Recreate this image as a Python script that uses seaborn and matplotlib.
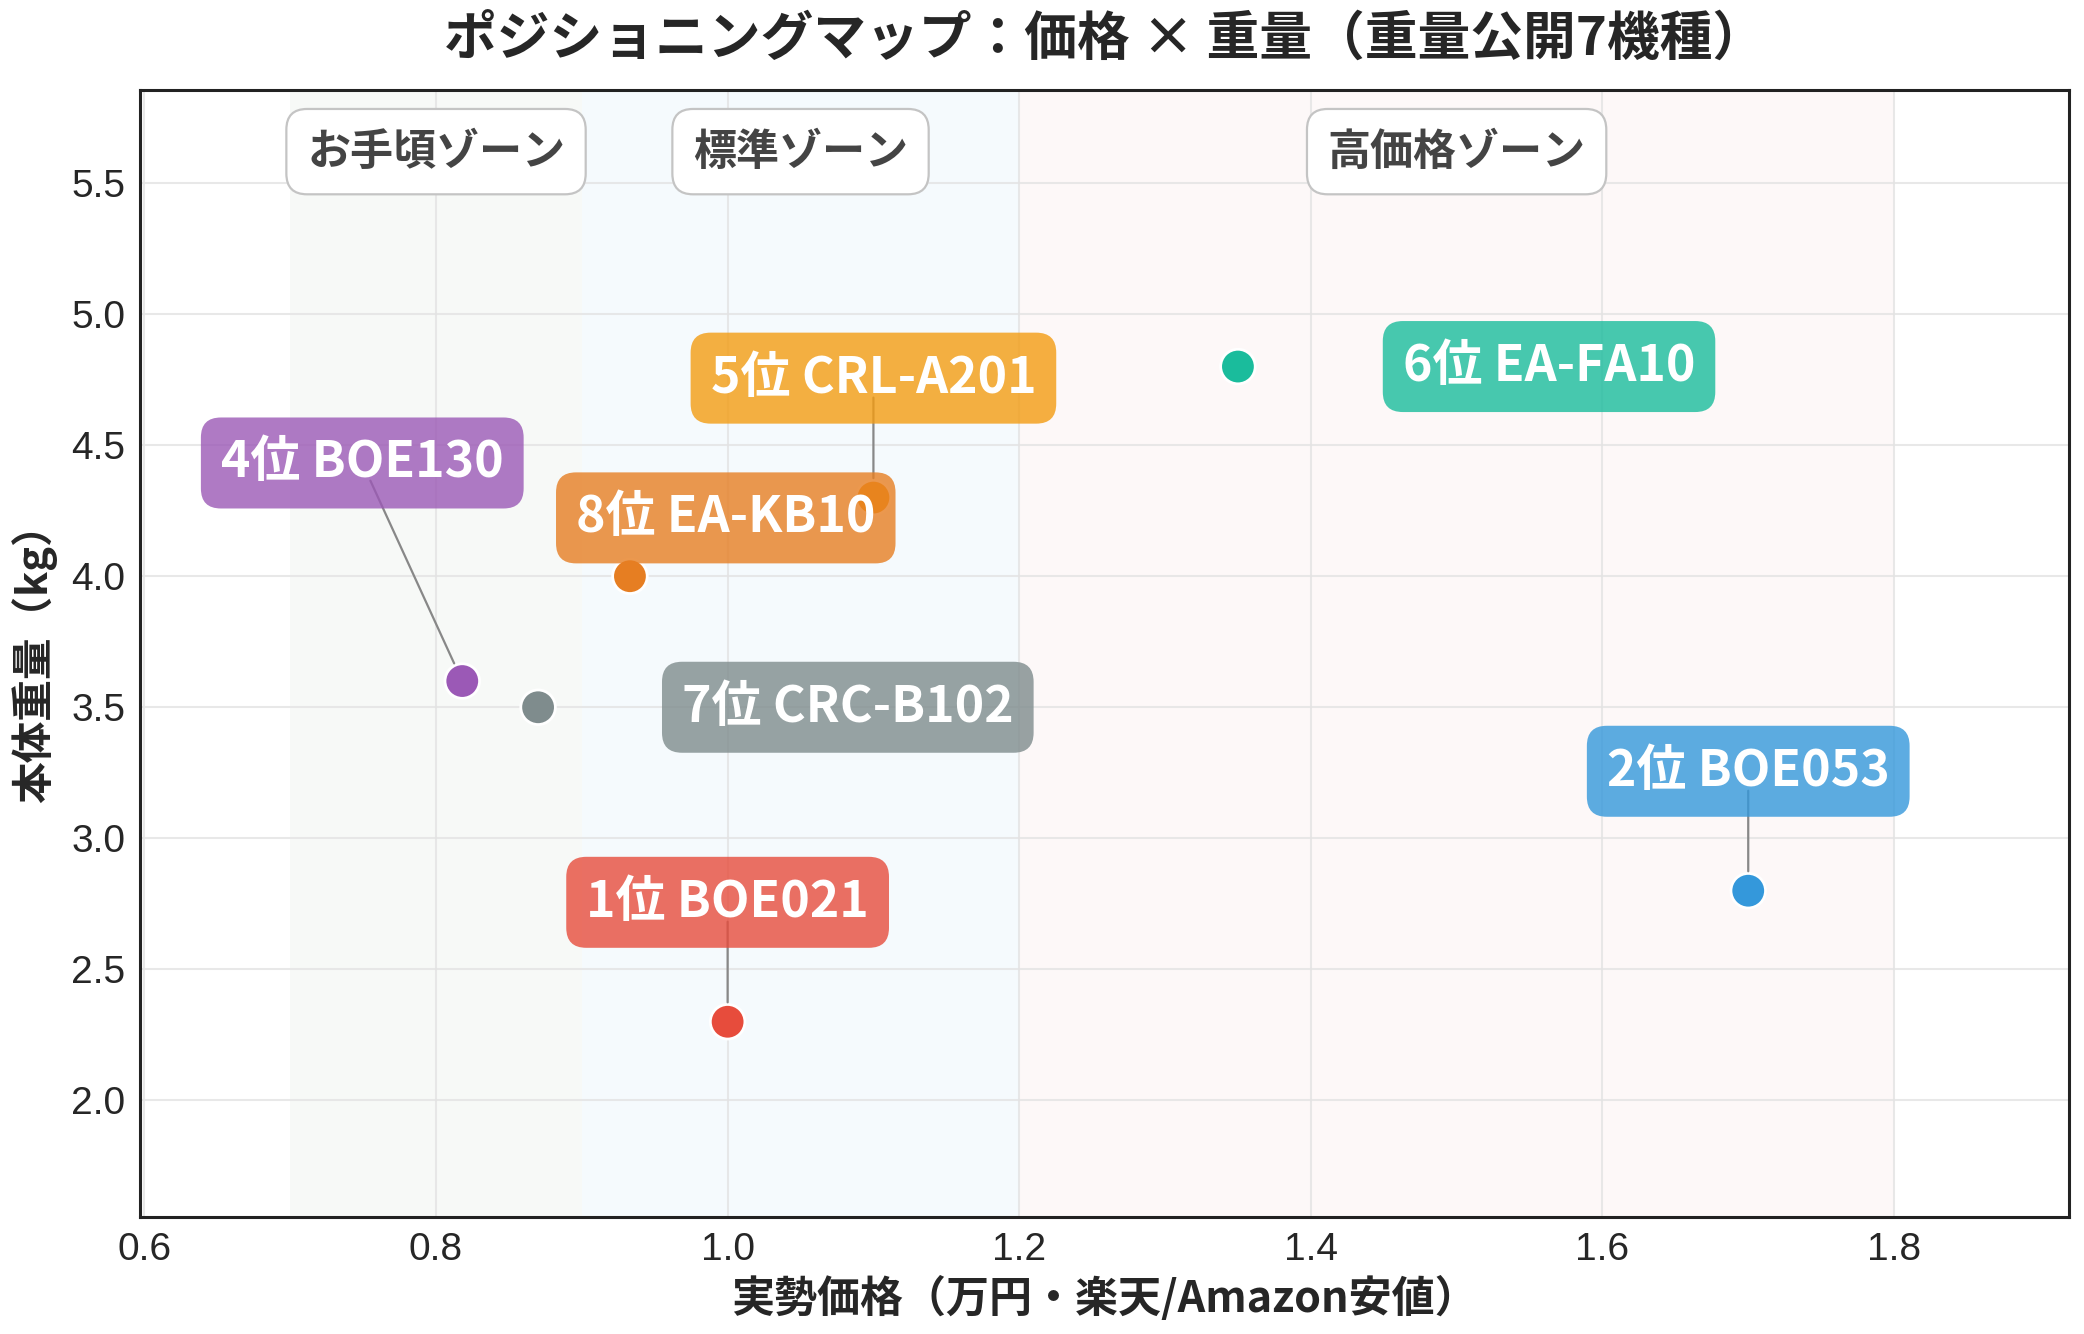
import matplotlib
matplotlib.use("Agg")
import matplotlib.pyplot as plt
import seaborn as sns
import pandas as pd

# データ（重量公開7機種）
ranks = ['1位', '2位', '4位', '5位', '6位', '7位', '8位']
models = ['BOE021', 'BOE053', 'BOE130', 'CRL-A201', 'EA-FA10', 'CRC-B102', 'EA-KB10']
prices = [1.00, 1.70, 0.818, 1.10, 1.35, 0.87, 0.933]    # 万円
weights = [2.3, 2.8, 3.6, 4.3, 4.8, 3.5, 4.0]            # kg
colors = ['#e74c3c', '#3498db', '#9b59b6', '#f39c12', '#1abc9c', '#7f8c8d', '#e67e22']

# ラベル位置（点からのオフセット, pt）と引き出し線の有無
offsets = [(0, 86), (0, 86), (-72, 157), (0, 86), (224, 0), (223, 0), (69, 42)]
leaders = [True, True, True, True, False, False, False]

# 価格ゾーン
zone_names = ['お手頃ゾーン', '標準ゾーン', '高価格ゾーン']
zone_lo = [0.7, 0.9, 1.2]
zone_hi = [0.9, 1.2, 1.8]
zone_colors = ['#f7f9f7', '#f5fafd', '#fdf8f8']

df = pd.DataFrame({'rank': ranks, 'model': models, 'price': prices, 'weight': weights})
df['label'] = df['rank'] + ' ' + df['model']

sns.set_style('white')
plt.rcParams['font.family'] = ['Noto Sans CJK JP', 'DejaVu Sans']

fig = plt.figure(figsize=(20.84, 13.34), dpi=100)
ax = fig.add_axes([0.0672, 0.0877, 0.9256, 0.8448])
ax.set_axisbelow(True)

for lo, hi, c in zip(zone_lo, zone_hi, zone_colors):
    ax.axvspan(lo, hi, color=c, zorder=0, lw=0)

sns.scatterplot(data=df, x='price', y='weight', hue='label', palette=colors,
                s=620, edgecolor='white', linewidth=2, legend=False, zorder=2, ax=ax)

for i, row in df.iterrows():
    arrow = None
    if leaders[i]:
        arrow = dict(arrowstyle='-', color='#888888', lw=1.6,
                     shrinkA=14, shrinkB=14, patchA=None)
    ax.annotate(row['label'], xy=(row['price'], row['weight']),
                xytext=offsets[i], textcoords='offset points',
                ha='center', va='center', fontsize=36, fontweight='bold', color='white',
                bbox=dict(boxstyle='round,pad=0.4', fc=colors[i], ec='none', alpha=0.8),
                arrowprops=arrow, zorder=3)

for name, lo, hi in zip(zone_names, zone_lo, zone_hi):
    ax.text((lo + hi) / 2, 5.62, name, ha='center', va='center',
            fontsize=31, fontweight='bold', color='#444444', zorder=4,
            bbox=dict(boxstyle='round,pad=0.48', fc='white', ec='#c4c4c4', lw=1.6))

ax.set_xlim(0.597, 1.92)
ax.set_ylim(1.555, 5.855)
ax.set_xticks([0.6, 0.8, 1.0, 1.2, 1.4, 1.6, 1.8])
ax.set_yticks([2.0, 2.5, 3.0, 3.5, 4.0, 4.5, 5.0, 5.5])
ax.grid(True, color='#e3e3e3', lw=1.5, alpha=0.8)

ax.tick_params(axis='both', labelsize=28, length=7, width=1.8, color='#222222', direction='out')
for lab in ax.get_xticklabels() + ax.get_yticklabels():
    lab.set_family(['Liberation Sans', 'DejaVu Sans'])
for sp in ax.spines.values():
    sp.set_color('#222222')
    sp.set_linewidth(2.2)

ax.set_xlabel('実勢価格（万円・楽天/Amazon安値）', fontsize=31, fontweight='bold', labelpad=6)
ax.set_ylabel('本体重量（kg）', fontsize=30, fontweight='bold', labelpad=10)
ax.text(0.5, 1.045, 'ポジショニングマップ：価格 × 重量（重量公開7機種）', transform=ax.transAxes,
        ha='center', va='center', fontsize=38, fontweight='bold')

fig.savefig('out.png', dpi=100)
